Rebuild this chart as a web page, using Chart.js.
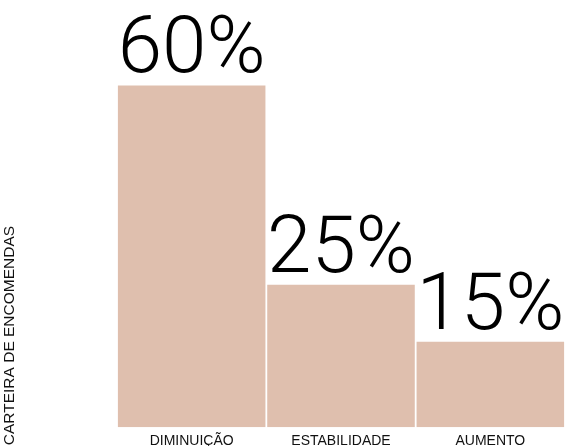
<!DOCTYPE html>
<html>
<head>
<meta charset="utf-8">
<style>
  html, body { margin: 0; padding: 0; background: #ffffff; }
  #wrap { width: 565px; height: 446px; }
</style>
<script src="https://cdn.jsdelivr.net/npm/chart.js@4/dist/chart.umd.min.js"></script>
</head>
<body>
<div id="wrap"><canvas id="c" width="565" height="446"></canvas></div>
<script>
// Order book outlook: share of answers per category
const categories = ['DIMINUIÇÃO', 'ESTABILIDADE', 'AUMENTO'];
const shares = [60, 25, 15];
const axisTitle = 'CARTEIRA DE ENCOMENDAS';

const barColor = '#dfbfae';

// Big percentage figure above each bar
const valueLabels = {
  id: 'valueLabels',
  afterDatasetsDraw(chart) {
    const ctx = chart.ctx;
    const meta = chart.getDatasetMeta(0);
    ctx.save();
    ctx.fillStyle = '#000000';
    ctx.font = '300 80px Roboto, "Liberation Sans", sans-serif';
    ctx.textAlign = 'center';
    ctx.textBaseline = 'alphabetic';
    meta.data.forEach((bar, i) => {
      ctx.fillText(shares[i] + '%', bar.x, bar.y - 13);
    });
    ctx.restore();
  }
};

// Vertical axis caption, anchored to the bottom of the plot
const sideTitle = {
  id: 'sideTitle',
  afterDraw(chart) {
    const ctx = chart.ctx;
    const area = chart.chartArea;
    ctx.save();
    ctx.translate(10, area.bottom + 18);
    ctx.rotate(-Math.PI / 2);
    ctx.fillStyle = '#111111';
    ctx.font = '15.5px "Liberation Sans", Arial, sans-serif';
    ctx.textAlign = 'left';
    ctx.textBaseline = 'middle';
    ctx.fillText(axisTitle, 0, 0);
    ctx.restore();
  }
};

new Chart(document.getElementById('c'), {
  type: 'bar',
  data: {
    labels: categories,
    datasets: [{
      data: shares,
      backgroundColor: barColor,
      borderWidth: 0,
      barPercentage: 0.988,
      categoryPercentage: 1.0
    }]
  },
  options: {
    responsive: false,
    animation: false,
    layout: { padding: { left: 117, right: 0, top: 0, bottom: -10 } },
    plugins: {
      legend: { display: false },
      tooltip: { enabled: false },
      title: { display: false }
    },
    scales: {
      x: {
        grid: { display: false, drawTicks: false },
        border: { display: false },
        ticks: {
          color: '#111111',
          padding: 6,
          font: { family: '"Liberation Sans", Arial, sans-serif', size: 14 },
          maxRotation: 0
        }
      },
      y: {
        display: false,
        min: 0,
        max: 75
      }
    }
  },
  plugins: [valueLabels, sideTitle]
});
</script>
</body>
</html>
